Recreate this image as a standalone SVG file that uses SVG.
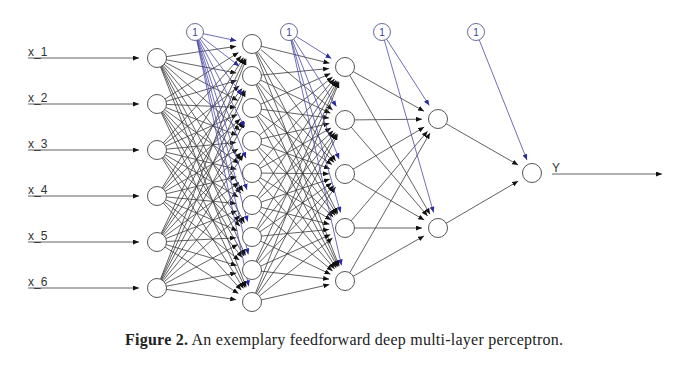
<svg xmlns="http://www.w3.org/2000/svg" width="680" height="370" viewBox="0 0 680 370">
<style>
.e{stroke:#3a3a3a;stroke-width:0.8;fill:none;marker-end:url(#ah)}
.b{stroke:#4a4aa8;stroke-width:0.8;fill:none;marker-end:url(#ahb)}
.n{fill:#fff;stroke:#555;stroke-width:1}
.bn{fill:#fff;stroke:#6b6b9a;stroke-width:1}
.bt{font-family:"Liberation Sans",Arial,sans-serif;font-size:10px;fill:#3c3ca0;text-anchor:middle}
.lb{font-family:"Liberation Sans",Arial,sans-serif;font-size:12px;fill:#333}
.cap{font-family:"Liberation Serif","Times New Roman",serif;font-size:16px;fill:#222}
</style>
<defs>
<marker id="ah" viewBox="0 0 6 5" refX="6" refY="2.5" markerWidth="6" markerHeight="5" markerUnits="userSpaceOnUse" orient="auto"><path d="M0,0 L6,2.5 L0,5 z" fill="#111"/></marker>
<marker id="ahb" viewBox="0 0 6 5" refX="6" refY="2.5" markerWidth="6" markerHeight="5" markerUnits="userSpaceOnUse" orient="auto"><path d="M0,0 L6,2.5 L0,5 z" fill="#2a2aa0"/></marker>
</defs>
<rect width="680" height="370" fill="#fff"/>
<g id="connectors">
<!-- inputs -->
<line class="e" x1="28" y1="58" x2="139" y2="58"/>
<line class="e" x1="28" y1="104" x2="139" y2="104"/>
<line class="e" x1="28" y1="150" x2="139" y2="150"/>
<line class="e" x1="28" y1="196" x2="139" y2="196"/>
<line class="e" x1="28" y1="242" x2="139" y2="242"/>
<line class="e" x1="28" y1="288" x2="139" y2="288"/>
<!-- L1 to L2 -->
<line class="e" x1="165.9" y1="56.7" x2="236.2" y2="46.3"/>
<line class="e" x1="165.8" y1="59.7" x2="236.3" y2="73.0"/>
<line class="e" x1="165.0" y1="62.2" x2="237.8" y2="100.5"/>
<line class="e" x1="163.8" y1="63.9" x2="240.0" y2="130.5"/>
<line class="e" x1="162.7" y1="64.9" x2="241.8" y2="160.7"/>
<line class="e" x1="161.9" y1="65.6" x2="243.3" y2="191.6"/>
<line class="e" x1="161.2" y1="66.0" x2="244.5" y2="222.9"/>
<line class="e" x1="160.7" y1="66.2" x2="245.5" y2="255.4"/>
<line class="e" x1="160.3" y1="66.4" x2="246.2" y2="287.1"/>
<line class="e" x1="164.6" y1="99.2" x2="238.5" y2="52.5"/>
<line class="e" x1="165.6" y1="101.5" x2="236.7" y2="80.5"/>
<line class="e" x1="166.0" y1="104.4" x2="236.0" y2="107.3"/>
<line class="e" x1="165.4" y1="107.3" x2="237.1" y2="135.2"/>
<line class="e" x1="164.3" y1="109.3" x2="239.1" y2="163.6"/>
<line class="e" x1="163.2" y1="110.6" x2="241.0" y2="193.3"/>
<line class="e" x1="162.2" y1="111.3" x2="242.7" y2="224.0"/>
<line class="e" x1="161.5" y1="111.8" x2="244.1" y2="256.1"/>
<line class="e" x1="160.9" y1="112.1" x2="245.1" y2="287.6"/>
<line class="e" x1="163.0" y1="143.3" x2="241.3" y2="55.9"/>
<line class="e" x1="164.1" y1="144.5" x2="239.4" y2="85.8"/>
<line class="e" x1="165.2" y1="146.4" x2="237.4" y2="114.5"/>
<line class="e" x1="166.0" y1="149.2" x2="236.1" y2="142.5"/>
<line class="e" x1="165.8" y1="152.1" x2="236.5" y2="169.2"/>
<line class="e" x1="164.8" y1="154.5" x2="238.2" y2="197.0"/>
<line class="e" x1="163.6" y1="156.1" x2="240.2" y2="226.2"/>
<line class="e" x1="162.6" y1="157.1" x2="242.1" y2="257.5"/>
<line class="e" x1="161.8" y1="157.6" x2="243.5" y2="288.4"/>
<line class="e" x1="161.8" y1="188.4" x2="243.5" y2="57.6"/>
<line class="e" x1="162.6" y1="188.9" x2="242.1" y2="88.5"/>
<line class="e" x1="163.6" y1="189.9" x2="240.3" y2="118.9"/>
<line class="e" x1="164.8" y1="191.5" x2="238.2" y2="149.0"/>
<line class="e" x1="165.8" y1="193.9" x2="236.5" y2="176.8"/>
<line class="e" x1="166.0" y1="196.9" x2="236.1" y2="203.5"/>
<line class="e" x1="165.3" y1="199.6" x2="237.3" y2="230.7"/>
<line class="e" x1="164.1" y1="201.5" x2="239.4" y2="260.2"/>
<line class="e" x1="163.0" y1="202.7" x2="241.3" y2="290.1"/>
<line class="e" x1="160.9" y1="233.9" x2="245.1" y2="58.4"/>
<line class="e" x1="161.5" y1="234.2" x2="244.1" y2="89.9"/>
<line class="e" x1="162.2" y1="234.7" x2="242.8" y2="121.1"/>
<line class="e" x1="163.2" y1="235.4" x2="241.0" y2="152.7"/>
<line class="e" x1="164.3" y1="236.7" x2="239.1" y2="182.4"/>
<line class="e" x1="165.4" y1="238.7" x2="237.1" y2="210.8"/>
<line class="e" x1="166.0" y1="241.5" x2="236.0" y2="237.8"/>
<line class="e" x1="165.6" y1="244.5" x2="236.7" y2="265.5"/>
<line class="e" x1="164.6" y1="246.8" x2="238.5" y2="293.5"/>
<line class="e" x1="160.3" y1="279.6" x2="246.2" y2="58.9"/>
<line class="e" x1="160.7" y1="279.8" x2="245.5" y2="90.6"/>
<line class="e" x1="161.2" y1="280.0" x2="244.5" y2="122.1"/>
<line class="e" x1="161.9" y1="280.4" x2="243.3" y2="154.4"/>
<line class="e" x1="162.7" y1="281.1" x2="241.8" y2="185.3"/>
<line class="e" x1="163.8" y1="282.1" x2="240.0" y2="215.5"/>
<line class="e" x1="165.0" y1="283.8" x2="237.8" y2="244.5"/>
<line class="e" x1="165.8" y1="286.3" x2="236.3" y2="273.0"/>
<line class="e" x1="165.9" y1="289.3" x2="236.2" y2="299.7"/>
<!-- L2 to L3 -->
<line class="e" x1="260.7" y1="46.2" x2="329.5" y2="63.2"/>
<line class="e" x1="261.0" y1="49.7" x2="332.6" y2="109.9"/>
<line class="e" x1="257.2" y1="51.3" x2="335.7" y2="161.0"/>
<line class="e" x1="256.1" y1="52.0" x2="337.8" y2="213.7"/>
<line class="e" x1="255.3" y1="52.4" x2="339.2" y2="266.1"/>
<line class="e" x1="261.0" y1="75.1" x2="329.1" y2="68.5"/>
<line class="e" x1="260.1" y1="79.9" x2="330.5" y2="113.2"/>
<line class="e" x1="258.2" y1="82.5" x2="334.0" y2="162.4"/>
<line class="e" x1="256.7" y1="83.7" x2="336.7" y2="214.4"/>
<line class="e" x1="255.7" y1="84.2" x2="338.4" y2="266.4"/>
<line class="e" x1="260.2" y1="104.4" x2="330.4" y2="73.5"/>
<line class="e" x1="260.9" y1="109.2" x2="329.1" y2="118.0"/>
<line class="e" x1="259.3" y1="113.2" x2="332.0" y2="164.7"/>
<line class="e" x1="257.5" y1="115.1" x2="335.2" y2="215.4"/>
<line class="e" x1="256.3" y1="115.9" x2="337.4" y2="266.9"/>
<line class="e" x1="259.0" y1="135.4" x2="332.5" y2="77.0"/>
<line class="e" x1="260.8" y1="139.0" x2="329.4" y2="123.5"/>
<line class="e" x1="260.5" y1="144.0" x2="329.9" y2="168.7"/>
<line class="e" x1="258.6" y1="147.2" x2="333.3" y2="217.1"/>
<line class="e" x1="257.0" y1="148.5" x2="336.2" y2="267.7"/>
<line class="e" x1="257.9" y1="166.2" x2="334.5" y2="79.0"/>
<line class="e" x1="259.8" y1="168.5" x2="331.1" y2="127.9"/>
<line class="e" x1="261.0" y1="173.1" x2="329.0" y2="173.8"/>
<line class="e" x1="259.8" y1="177.6" x2="331.2" y2="219.9"/>
<line class="e" x1="257.9" y1="179.8" x2="334.6" y2="268.9"/>
<line class="e" x1="257.0" y1="197.5" x2="336.1" y2="80.3"/>
<line class="e" x1="258.6" y1="198.9" x2="333.2" y2="130.8"/>
<line class="e" x1="260.5" y1="202.2" x2="329.8" y2="179.1"/>
<line class="e" x1="260.7" y1="207.2" x2="329.5" y2="224.2"/>
<line class="e" x1="259.0" y1="210.7" x2="332.6" y2="270.9"/>
<line class="e" x1="256.3" y1="229.1" x2="337.3" y2="81.0"/>
<line class="e" x1="257.6" y1="230.0" x2="335.0" y2="132.5"/>
<line class="e" x1="259.5" y1="232.0" x2="331.8" y2="183.0"/>
<line class="e" x1="261.0" y1="236.1" x2="329.1" y2="229.5"/>
<line class="e" x1="260.1" y1="240.9" x2="330.5" y2="274.2"/>
<line class="e" x1="255.8" y1="261.8" x2="338.3" y2="81.6"/>
<line class="e" x1="256.7" y1="262.4" x2="336.6" y2="133.6"/>
<line class="e" x1="258.3" y1="263.5" x2="333.9" y2="185.5"/>
<line class="e" x1="260.2" y1="266.3" x2="330.4" y2="234.6"/>
<line class="e" x1="260.9" y1="271.1" x2="329.1" y2="279.1"/>
<line class="e" x1="255.3" y1="293.6" x2="339.1" y2="81.9"/>
<line class="e" x1="256.1" y1="294.0" x2="337.7" y2="134.3"/>
<line class="e" x1="257.3" y1="294.7" x2="335.6" y2="186.9"/>
<line class="e" x1="259.0" y1="296.4" x2="332.5" y2="238.0"/>
<line class="e" x1="260.8" y1="300.0" x2="329.4" y2="284.5"/>
<!-- L3 to L4 -->
<line class="e" x1="352.9" y1="71.4" x2="424.0" y2="111.2"/>
<line class="e" x1="349.5" y1="74.8" x2="430.0" y2="214.2"/>
<line class="e" x1="354.0" y1="119.9" x2="422.0" y2="119.2"/>
<line class="e" x1="350.9" y1="126.8" x2="427.6" y2="215.9"/>
<line class="e" x1="352.8" y1="169.4" x2="424.2" y2="127.1"/>
<line class="e" x1="352.8" y1="178.5" x2="424.2" y2="220.0"/>
<line class="e" x1="350.8" y1="221.2" x2="427.6" y2="131.2"/>
<line class="e" x1="354.0" y1="228.0" x2="422.0" y2="228.0"/>
<line class="e" x1="349.5" y1="273.2" x2="430.0" y2="132.9"/>
<line class="e" x1="352.8" y1="276.5" x2="424.1" y2="235.9"/>
<!-- L4 to output -->
<line class="e" x1="445.8" y1="123.5" x2="518.1" y2="165.0"/>
<line class="e" x1="445.8" y1="223.5" x2="518.2" y2="181.1"/>
<line class="e" x1="552" y1="174" x2="662" y2="174"/>
<!-- bias -->
<line class="b" x1="202.8" y1="33.6" x2="236.3" y2="40.7"/>
<line class="b" x1="201.3" y1="36.9" x2="239.3" y2="66.2"/>
<line class="b" x1="199.8" y1="38.4" x2="242.4" y2="95.2"/>
<line class="b" x1="198.7" y1="39.1" x2="244.6" y2="126.8"/>
<line class="b" x1="198.0" y1="39.4" x2="246.0" y2="158.2"/>
<line class="b" x1="197.5" y1="39.6" x2="247.0" y2="189.8"/>
<line class="b" x1="197.1" y1="39.7" x2="247.7" y2="221.6"/>
<line class="b" x1="196.9" y1="39.8" x2="248.3" y2="254.4"/>
<line class="b" x1="196.7" y1="39.8" x2="248.7" y2="286.3"/>
<line class="b" x1="295.8" y1="36.2" x2="331.4" y2="58.5"/>
<line class="b" x1="293.3" y1="38.7" x2="336.4" y2="106.5"/>
<line class="b" x1="291.9" y1="39.4" x2="339.1" y2="159.1"/>
<line class="b" x1="291.2" y1="39.7" x2="340.6" y2="212.6"/>
<line class="b" x1="290.8" y1="39.8" x2="341.5" y2="265.4"/>
<line class="b" x1="386.3" y1="38.7" x2="429.3" y2="105.5"/>
<line class="b" x1="384.2" y1="39.7" x2="433.6" y2="212.6"/>
<line class="b" x1="479.0" y1="39.4" x2="527.0" y2="160.0"/>
</g>
<g id="input-nodes">
<g id="x1"><text class="lb" x="28" y="56">x_1</text><circle class="n" cx="157" cy="58" r="9.5"/></g>
<g id="x2"><text class="lb" x="28" y="102">x_2</text><circle class="n" cx="157" cy="104" r="9.5"/></g>
<g id="x3"><text class="lb" x="28" y="148">x_3</text><circle class="n" cx="157" cy="150" r="9.5"/></g>
<g id="x4"><text class="lb" x="28" y="194">x_4</text><circle class="n" cx="157" cy="196" r="9.5"/></g>
<g id="x5"><text class="lb" x="28" y="240">x_5</text><circle class="n" cx="157" cy="242" r="9.5"/></g>
<g id="x6"><text class="lb" x="28" y="286">x_6</text><circle class="n" cx="157" cy="288" r="9.5"/></g>
</g>
<g id="hidden1">
<g id="h1-1"><circle class="n" cx="252" cy="44" r="9.5"/></g>
<g id="h1-2"><circle class="n" cx="252" cy="76" r="9.5"/></g>
<g id="h1-3"><circle class="n" cx="252" cy="108" r="9.5"/></g>
<g id="h1-4"><circle class="n" cx="252" cy="141" r="9.5"/></g>
<g id="h1-5"><circle class="n" cx="252" cy="173" r="9.5"/></g>
<g id="h1-6"><circle class="n" cx="252" cy="205" r="9.5"/></g>
<g id="h1-7"><circle class="n" cx="252" cy="237" r="9.5"/></g>
<g id="h1-8"><circle class="n" cx="252" cy="270" r="9.5"/></g>
<g id="h1-9"><circle class="n" cx="252" cy="302" r="9.5"/></g>
</g>
<g id="hidden2">
<g id="h2-1"><circle class="n" cx="345" cy="67" r="9.5"/></g>
<g id="h2-2"><circle class="n" cx="345" cy="120" r="9.5"/></g>
<g id="h2-3"><circle class="n" cx="345" cy="174" r="9.5"/></g>
<g id="h2-4"><circle class="n" cx="345" cy="228" r="9.5"/></g>
<g id="h2-5"><circle class="n" cx="345" cy="281" r="9.5"/></g>
</g>
<g id="hidden3">
<g id="h3-1"><circle class="n" cx="438" cy="119" r="9.5"/></g>
<g id="h3-2"><circle class="n" cx="438" cy="228" r="9.5"/></g>
</g>
<g id="output">
<g id="y"><circle class="n" cx="532" cy="173" r="9.5"/><text class="lb" x="552" y="172">Y</text></g>
</g>
<g id="bias">
<g id="b1"><circle class="bn" cx="195" cy="32" r="8.5"/><text class="bt" x="195" y="35.5">1</text></g>
<g id="b2"><circle class="bn" cx="289" cy="32" r="8.5"/><text class="bt" x="289" y="35.5">1</text></g>
<g id="b3"><circle class="bn" cx="382" cy="32" r="8.5"/><text class="bt" x="382" y="35.5">1</text></g>
<g id="b4"><circle class="bn" cx="476" cy="32" r="8.5"/><text class="bt" x="476" y="35.5">1</text></g>
</g>
<text class="cap" x="125" y="345" textLength="438" lengthAdjust="spacing"><tspan font-weight="bold">Figure 2.</tspan> An exemplary feedforward deep multi-layer perceptron.</text>
</svg>
